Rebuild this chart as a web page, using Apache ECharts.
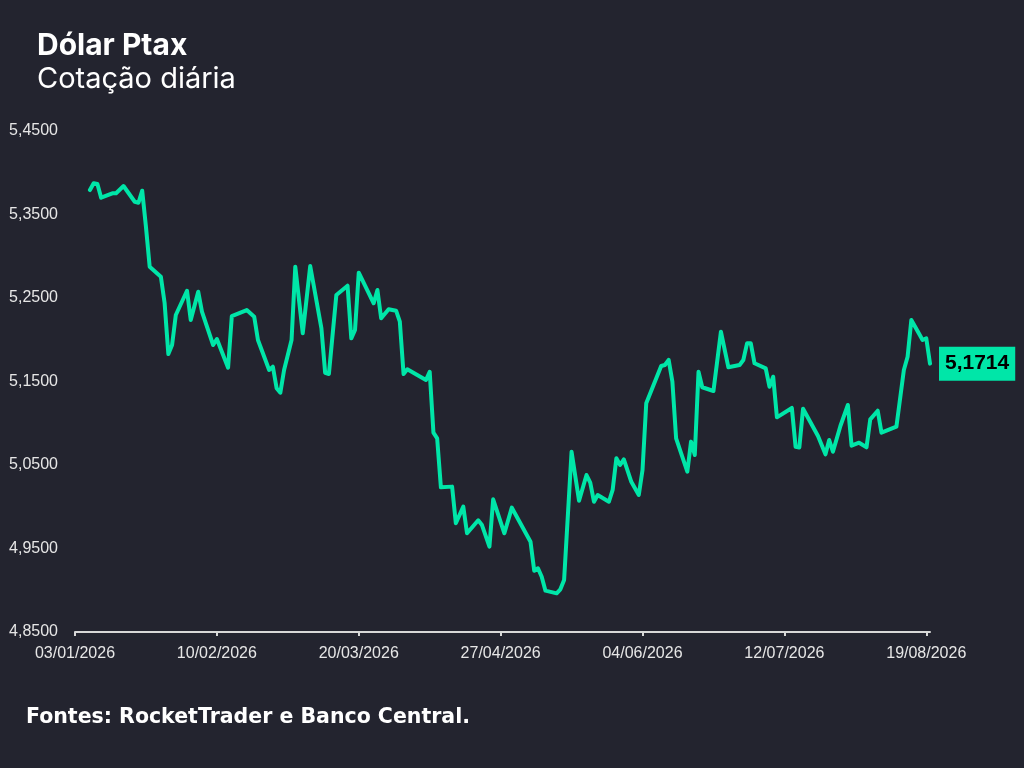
<!DOCTYPE html>
<html>
<head>
<meta charset="utf-8">
<script src="https://cdn.jsdelivr.net/npm/echarts@6/dist/echarts.min.js"></script>
<style>
	html, body { margin: 0; padding: 0; background: #23242f; }
	#chart { width: 1024px; height: 768px; }
</style>
</head>
<body>
<div id="chart"></div>
<script>
	// cotação diária (datas e valores)
	var dates = [
		'2026-01-07', '2026-01-08', '2026-01-09', '2026-01-10', '2026-01-13', '2026-01-14', '2026-01-16',
		'2026-01-19', '2026-01-20', '2026-01-21', '2026-01-22', '2026-01-23', '2026-01-26', '2026-01-27',
		'2026-01-28', '2026-01-29', '2026-01-30', '2026-02-02', '2026-02-03', '2026-02-05', '2026-02-06',
		'2026-02-09', '2026-02-10', '2026-02-13', '2026-02-14', '2026-02-18', '2026-02-20', '2026-02-21',
		'2026-02-24', '2026-02-25', '2026-02-26', '2026-02-27', '2026-02-28', '2026-03-02', '2026-03-03',
		'2026-03-05', '2026-03-07', '2026-03-10', '2026-03-11', '2026-03-12', '2026-03-14', '2026-03-17',
		'2026-03-18', '2026-03-19', '2026-03-20', '2026-03-24', '2026-03-25', '2026-03-26', '2026-03-28',
		'2026-03-30', '2026-03-31', '2026-04-01', '2026-04-02', '2026-04-07', '2026-04-08', '2026-04-09',
		'2026-04-10', '2026-04-11', '2026-04-14', '2026-04-15', '2026-04-17', '2026-04-18', '2026-04-21',
		'2026-04-22', '2026-04-24', '2026-04-25', '2026-04-28', '2026-04-30', '2026-05-05', '2026-05-06',
		'2026-05-07', '2026-05-08', '2026-05-09', '2026-05-12', '2026-05-13', '2026-05-14', '2026-05-16',
		'2026-05-18', '2026-05-20', '2026-05-21', '2026-05-22', '2026-05-23', '2026-05-26', '2026-05-27',
		'2026-05-28', '2026-05-29', '2026-05-30', '2026-06-01', '2026-06-03', '2026-06-04', '2026-06-05',
		'2026-06-09', '2026-06-10', '2026-06-11', '2026-06-12', '2026-06-13', '2026-06-16', '2026-06-17',
		'2026-06-18', '2026-06-19', '2026-06-20', '2026-06-23', '2026-06-25', '2026-06-27', '2026-06-30',
		'2026-07-01', '2026-07-02', '2026-07-03', '2026-07-04', '2026-07-07', '2026-07-08', '2026-07-09',
		'2026-07-10', '2026-07-14', '2026-07-15', '2026-07-16', '2026-07-17', '2026-07-21', '2026-07-23',
		'2026-07-24', '2026-07-25', '2026-07-27', '2026-07-29', '2026-07-30', '2026-08-01', '2026-08-03',
		'2026-08-04', '2026-08-06', '2026-08-07', '2026-08-11', '2026-08-13', '2026-08-14', '2026-08-15',
		'2026-08-17', '2026-08-18', '2026-08-19', '2026-08-20'
	];
	var values = [
		5.3793, 5.3874, 5.3865, 5.3701, 5.3754, 5.3754, 5.3841,
		5.3653, 5.3641, 5.3785, 5.3354, 5.2875, 5.2755, 5.2440,
		5.1829, 5.1937, 5.2296, 5.2587, 5.2237, 5.2575, 5.2336,
		5.1937, 5.2009, 5.1665, 5.2284, 5.2356, 5.2276, 5.1997,
		5.1638, 5.1677, 5.1419, 5.1366, 5.1638, 5.1997, 5.2875,
		5.2077, 5.2883, 5.2137, 5.1605, 5.1590, 5.2536, 5.2647,
		5.2017, 5.2117, 5.2803, 5.2437, 5.2596, 5.2257, 5.2365,
		5.2348, 5.2216, 5.1590, 5.1646, 5.1518, 5.1617, 5.0887,
		5.0820, 5.0233, 5.0241, 4.9802, 5.0001, 4.9682, 4.9838,
		4.9781, 4.9522, 5.0089, 4.9682, 4.9989, 4.9581, 4.9234,
		4.9263, 4.9162, 4.8995, 4.8963, 4.9011, 4.9123, 5.0659,
		5.0072, 5.0380, 5.0288, 5.0060, 5.0141, 5.0060, 5.0201,
		5.0580, 5.0500, 5.0568, 5.0299, 5.0141, 5.0440, 5.1239,
		5.1686, 5.1698, 5.1758, 5.1498, 5.0820, 5.0420, 5.0780,
		5.0620, 5.1617, 5.1431, 5.1386, 5.2096, 5.1670, 5.1698,
		5.1758, 5.1957, 5.1957, 5.1718, 5.1658, 5.1438, 5.1557,
		5.1071, 5.1183, 5.0719, 5.0710, 5.1173, 5.0847, 5.0628,
		5.0799, 5.0659, 5.0967, 5.1219, 5.0731, 5.0767, 5.0712,
		5.1047, 5.1150, 5.0887, 5.0959, 5.1638, 5.1797, 5.2237,
		5.2077, 5.1997, 5.2017, 5.1714
	];
	// datas mostradas no eixo x
	var tickDates = ['2026-01-03', '2026-02-10', '2026-03-20', '2026-04-27', '2026-06-04', '2026-07-12', '2026-08-19'];
	var xMin = '2026-01-03';
	var xMax = '2026-08-20';

	// dias desde a data inicial (UTC, sem fuso)
	var DAY = 86400000;
	function toUtc(s) {
		var p = s.split('-').map(Number);
		return Date.UTC(p[0], p[1] - 1, p[2]);
	}
	var base = toUtc(xMin);
	function toDay(s) { return Math.round((toUtc(s) - base) / DAY); }
	function pad(n) { return (n < 10 ? '0' : '') + n; }
	function fmtDay(v) {
		var d = new Date(base + v * DAY);
		return pad(d.getUTCDate()) + '/' + pad(d.getUTCMonth() + 1) + '/' + d.getUTCFullYear();
	}
	function fmtNum(v) { return v.toFixed(4).replace('.', ','); }

	var GREEN = '#00e6a8';
	var tickDays = tickDates.map(toDay);
	var seriesData = dates.map(function (d, i) { return [toDay(d), values[i]]; });

	var chart = echarts.init(document.getElementById('chart'));
	chart.setOption({
		backgroundColor: '#23242f',
		animation: false,
		title: [{
			text: 'Dólar Ptax',
			subtext: 'Cotação diária',
			left: 32,
			top: 26,
			itemGap: 4,
			textStyle: { color: '#ffffff', fontFamily: 'Inter', fontWeight: 'bold', fontSize: 30 },
			subtextStyle: { color: '#ffffff', fontFamily: 'Inter', fontWeight: 'normal', fontSize: 29 }
		}, {
			text: 'Fontes: RocketTrader e Banco Central.',
			left: 21,
			top: 702,
			textStyle: { color: '#ffffff', fontFamily: 'DejaVu Sans', fontWeight: 'bold', fontSize: 20.5 }
		}],
		grid: { left: 75, right: 94, top: 131, bottom: 136, containLabel: false },
		xAxis: {
			type: 'value',
			min: 0,
			max: toDay(xMax),
			splitLine: { show: false },
			axisLine: { show: true, lineStyle: { color: '#d8d8d8', width: 2 } },
			axisTick: { show: true, length: 4, lineStyle: { color: '#d8d8d8', width: 2 }, customValues: tickDays },
			axisLabel: {
				color: '#e6e6e6', fontFamily: 'Liberation Sans', fontSize: 16, margin: 14,
				customValues: tickDays,
				formatter: function (v) { return fmtDay(v); }
			}
		},
		yAxis: {
			type: 'value',
			min: 4.85,
			max: 5.45,
			interval: 0.1,
			splitLine: { show: false },
			axisLine: { show: false },
			axisTick: { show: false },
			axisLabel: {
				color: '#e6e6e6', fontFamily: 'Liberation Sans', fontSize: 16, margin: 17,
				formatter: function (v) { return fmtNum(v); }
			}
		},
		series: [{
			type: 'line',
			data: seriesData,
			showSymbol: false,
			lineStyle: { color: GREEN, width: 4, join: 'round', cap: 'round' },
			endLabel: {
				show: true,
				distance: 9,
				formatter: function (p) { return fmtNum(p.value[1]); },
				backgroundColor: GREEN,
				color: '#000000',
				fontFamily: 'Liberation Sans',
				fontWeight: 'bold',
				fontSize: 21,
				padding: [7, 6, 6, 6]
			}
		}]
	});
</script>
</body>
</html>
